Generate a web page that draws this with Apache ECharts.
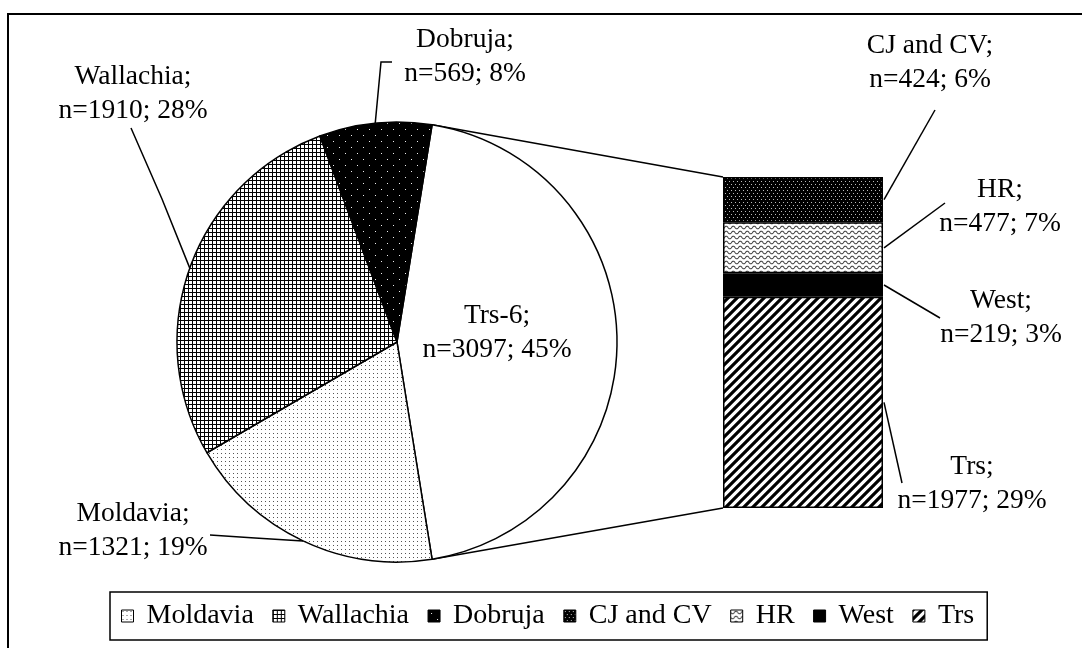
<!DOCTYPE html>
<html>
<head>
<meta charset="utf-8">
<script src="https://cdn.jsdelivr.net/npm/echarts@6/dist/echarts.min.js"></script>
<style>
html,body{margin:0;padding:0;background:#fff;}
#chart{width:1082px;height:648px;}
</style>
</head>
<body>
<div id="chart"></div>
<script>
// ---- data ----
const pieNames = ['Trs-6', 'Moldavia', 'Wallachia', 'Dobruja'];
const pieValues = [3097, 1321, 1910, 569];
const barNames = ['CJ and CV', 'HR', 'West', 'Trs'];
const barValues = [424, 477, 219, 1977];
const legendNames = ['Moldavia', 'Wallachia', 'Dobruja', 'CJ and CV', 'HR', 'West', 'Trs'];

// ---- layout / style ----
const FONT = 'Liberation Serif';
const FS = 27.5;
const PIE_CX = 397, PIE_CY = 342, PIE_R = 220;
const BAR_LEFT = 723, BAR_TOP = 177, BAR_W = 160, BAR_H = 331;
const pieLabelPos = {
  'Trs-6': [497, 333],
  'Moldavia': [133, 531],
  'Wallachia': [133, 94],
  'Dobruja': [465, 57]
};
const pieLineEnd = {
  'Moldavia': [[255, 538], [210, 535]],
  'Wallachia': [[162, 199], [131, 128]],
  'Dobruja': [[381, 62], [392, 62]]
};
const barLabelPos = {
  'CJ and CV': [930, 63],
  'HR': [1000, 207],
  'West': [1001, 318],
  'Trs': [972, 484]
};
const barLineEnd = {
  'CJ and CV': [935, 110],
  'HR': [945, 203],
  'West': [940, 318],
  'Trs': [902, 483]
};

function makePattern(w, h, draw) {
  const c = document.createElement('canvas');
  c.width = w; c.height = h;
  const ctx = c.getContext('2d');
  draw(ctx, w, h);
  return { image: c, repeat: 'repeat' };
}
const patterns = {
  'Trs-6': '#ffffff',
  'Moldavia': makePattern(4, 4, (ctx, w, h) => {
    ctx.fillStyle = '#fff'; ctx.fillRect(0, 0, w, h);
    ctx.fillStyle = '#555'; ctx.fillRect(1, 1, 1, 1);
  }),
  'Wallachia': makePattern(4, 4, (ctx, w, h) => {
    ctx.fillStyle = '#fff'; ctx.fillRect(0, 0, w, h);
    ctx.fillStyle = '#000'; ctx.fillRect(0, 0, w, 1); ctx.fillRect(0, 0, 1, h);
  }),
  'Dobruja': makePattern(12, 12, (ctx, w, h) => {
    ctx.fillStyle = '#000'; ctx.fillRect(0, 0, w, h);
    ctx.fillStyle = '#eee'; ctx.fillRect(3, 3, 1, 1); ctx.fillRect(9, 9, 1, 1);
  }),
  'CJ and CV': makePattern(4, 6, (ctx, w, h) => {
    ctx.fillStyle = '#000'; ctx.fillRect(0, 0, w, h);
    ctx.fillStyle = '#bbb'; ctx.fillRect(1, 1, 1, 1); ctx.fillRect(3, 4, 1, 1);
  }),
  'HR': makePattern(7, 5, (ctx, w, h) => {
    ctx.fillStyle = '#fff'; ctx.fillRect(0, 0, w, h);
    ctx.strokeStyle = '#444'; ctx.lineWidth = 1.1;
    ctx.beginPath();
    for (let x = -1; x <= w + 1; x += 0.25) {
      const y = 2.5 + 1.3 * Math.sin(2 * Math.PI * x / w);
      if (x === -1) ctx.moveTo(x, y); else ctx.lineTo(x, y);
    }
    ctx.stroke();
  }),
  'West': '#000000',
  'Trs': makePattern(9, 9, (ctx, w, h) => {
    ctx.fillStyle = '#fff'; ctx.fillRect(0, 0, w, h);
    ctx.strokeStyle = '#000'; ctx.lineWidth = 3.2;
    ctx.beginPath();
    [0, 9, 18].forEach(k => { ctx.moveTo(k + 2, -2); ctx.lineTo(k - 11, 11); });
    ctx.stroke();
  })
};

const TOTAL = pieValues.reduce((a, b) => a + b, 0);
const BAR_TOTAL = barValues.reduce((a, b) => a + b, 0);
const pct = v => Math.round(v / TOTAL * 100);
const trsFrac = pieValues[0] / TOTAL;
const START = trsFrac * 180; // Trs-6 slice centred on the right

function midPoint(idx) {
  let acc = 0;
  for (let i = 0; i < idx; i++) acc += pieValues[i];
  const frac0 = acc / TOTAL, frac1 = (acc + pieValues[idx]) / TOTAL;
  const mid = (START - (frac0 + frac1) / 2 * 360) * Math.PI / 180;
  return [PIE_CX + PIE_R * Math.cos(mid), PIE_CY - PIE_R * Math.sin(mid)];
}

const textStyle = { fontFamily: FONT, fontSize: FS, color: '#000', lineHeight: 34 };

const series = [{
  type: 'pie',
  center: [PIE_CX, PIE_CY],
  radius: PIE_R,
  startAngle: START,
  clockwise: true,
  avoidLabelOverlap: false,
  itemStyle: { borderColor: '#000', borderWidth: 1.5 },
  label: Object.assign({
    show: true,
    formatter: p => p.name + ';\nn=' + p.value + '; ' + pct(p.value) + '%',
    align: 'center'
  }, textStyle),
  labelLine: { show: true, lineStyle: { color: '#000', width: 1.5 } },
  emphasis: { disabled: true },
  labelLayout: params => {
    const name = pieNames[params.dataIndex];
    const pos = pieLabelPos[name];
    const out = { x: pos[0], y: pos[1], align: 'center', verticalAlign: 'middle' };
    if (pieLineEnd[name]) {
      out.labelLinePoints = [midPoint(params.dataIndex)].concat(pieLineEnd[name]);
    }
    return out;
  },
  data: pieNames.map((n, i) => ({
    name: n,
    value: pieValues[i],
    itemStyle: { color: patterns[n] },
    label: n === 'Trs-6' ? { position: 'inside' } : undefined,
    labelLine: n === 'Trs-6' ? { show: false } : undefined
  }))
}];

barNames.forEach((n, i) => {
  series.push({
    type: 'bar',
    name: n,
    stack: 'trs',
    barWidth: '100%',
    xAxisIndex: 0,
    yAxisIndex: 0,
    data: [barValues[i]],
    itemStyle: { color: patterns[n], borderColor: '#000', borderWidth: 1.5 },
    emphasis: { disabled: true },
    label: Object.assign({
      show: true,
      position: 'right',
      align: 'center',
      formatter: p => n + ';\nn=' + p.value + '; ' + pct(p.value) + '%'
    }, textStyle),
    labelLine: { show: false },
    labelLayout: () => {
      const pos = barLabelPos[n];
      return { x: pos[0], y: pos[1], align: 'center', verticalAlign: 'middle' };
    }
  });
});

const chart = echarts.init(document.getElementById('chart'), null, { renderer: 'canvas' });

const topA = START * Math.PI / 180;
const pieTop = [PIE_CX + PIE_R * Math.cos(topA), PIE_CY - PIE_R * Math.sin(topA)];
const pieBot = [PIE_CX + PIE_R * Math.cos(-topA), PIE_CY - PIE_R * Math.sin(-topA)];

chart.setOption({
  animation: false,
  backgroundColor: '#fff',
  grid: { left: BAR_LEFT, top: BAR_TOP, width: BAR_W, height: BAR_H },
  xAxis: { type: 'category', data: ['Trs-6'], show: false },
  yAxis: { type: 'value', min: 0, max: BAR_TOTAL, inverse: true, show: false },
  legend: {
    data: legendNames,
    left: 110,
    top: 592,
    padding: [10, 13, 10, 11],
    itemGap: 18.5,
    itemWidth: 12,
    itemHeight: 12,
    icon: 'rect',
    borderColor: '#000',
    borderWidth: 1.5,
    selectedMode: false,
    itemStyle: { borderColor: '#000', borderWidth: 1 },
    textStyle: { fontFamily: FONT, fontSize: 28, color: '#000', padding: [0, 0, 0, 8] }
  },
  series: series
});

const yTop = chart.convertToPixel({ yAxisIndex: 0 }, 0);
const yBot = chart.convertToPixel({ yAxisIndex: 0 }, BAR_TOTAL);
const graphics = [
  { type: 'rect', shape: { x: 8, y: 14, width: 1200, height: 800 }, style: { fill: 'none', stroke: '#000', lineWidth: 2 }, silent: true },
  { type: 'line', shape: { x1: pieTop[0], y1: pieTop[1], x2: BAR_LEFT, y2: yTop }, style: { stroke: '#000', lineWidth: 1.5 }, silent: true },
  { type: 'line', shape: { x1: pieBot[0], y1: pieBot[1], x2: BAR_LEFT, y2: yBot }, style: { stroke: '#000', lineWidth: 1.5 }, silent: true }
];
let cum = 0;
barNames.forEach((n, i) => {
  const yMid = chart.convertToPixel({ yAxisIndex: 0 }, cum + barValues[i] / 2);
  cum += barValues[i];
  const end = barLineEnd[n];
  graphics.push({ type: 'line', shape: { x1: BAR_LEFT + BAR_W + 1, y1: yMid, x2: end[0], y2: end[1] }, style: { stroke: '#000', lineWidth: 1.5 }, silent: true });
});
chart.setOption({ graphic: graphics });
</script>
</body>
</html>
